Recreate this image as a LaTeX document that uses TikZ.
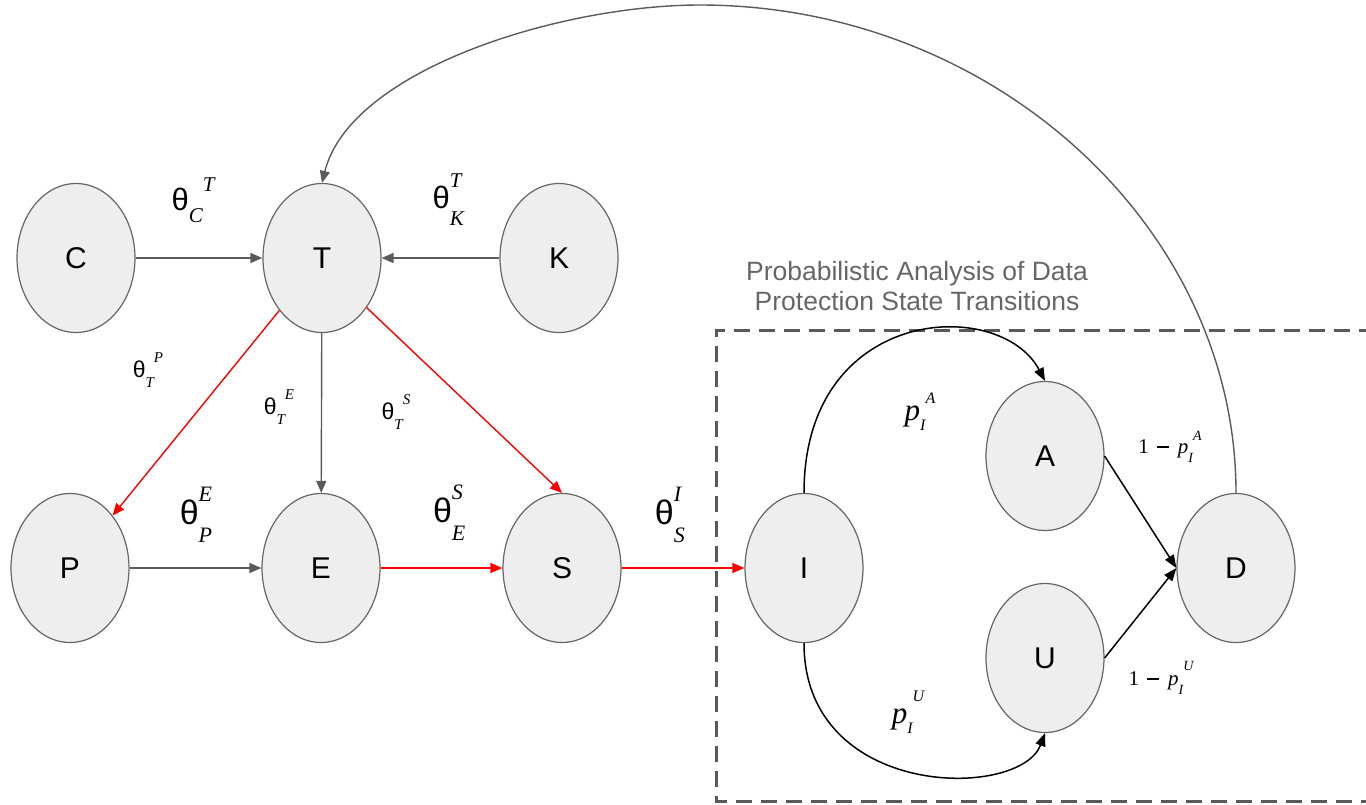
\documentclass[tikz,border=0pt]{standalone}
\usepackage{fontspec}
\setmainfont{Liberation Sans}
\newfontfamily\serf{Liberation Serif}
\usetikzlibrary{shapes.geometric,arrows.meta}
\definecolor{nodefill}{HTML}{EEEEEE}
\definecolor{nodeline}{HTML}{666666}
\definecolor{edgegray}{HTML}{5A5A5A}
\definecolor{titlegray}{HTML}{666666}
\definecolor{boxgray}{HTML}{595959}
\definecolor{redline}{HTML}{FF0000}
% stacked sub/superscript: base, base size, script size, sub, sup, lower, raise
\newcommand{\stk}[7]{{\fontsize{#2}{#2}\selectfont #1}{\fontsize{#3}{#3}\selectfont\serf\itshape\rlap{\raisebox{-#6}{#4}}\raisebox{#7}{#5}}}
% shifted: superscript after subscript
\newcommand{\shf}[7]{{\fontsize{#2}{#2}\selectfont #1}{\fontsize{#3}{#3}\selectfont\serf\itshape\raisebox{-#6}{#4}\raisebox{#7}{#5}}}
\newcommand{\minussign}{\hspace{8pt}\rule[6pt]{12pt}{1.3pt}\hspace{9pt}}
\begin{document}
\begin{tikzpicture}[x=1pt,y=-1pt,
  state/.style={ellipse, draw=nodeline, fill=nodefill, line width=1.2pt,
    minimum width=118pt, minimum height=149pt, inner sep=0pt,
    font=\fontsize{30}{30}\selectfont},
  grayedge/.style={draw=edgegray, line width=1.4pt, -{Triangle[length=12pt,width=10pt]}},
  rededge/.style={draw=redline, line width=1.4pt, -{Triangle[length=12pt,width=10pt]}},
  blackedge/.style={draw=black, line width=1.5pt, -{Triangle[length=13pt,width=10pt]}},
  lbl/.style={inner sep=0pt, text=black},
  titletext/.style={inner sep=0pt, text=titlegray, align=center,
    font=\fontsize{26.5}{30}\selectfont},
  group/.style={draw=boxgray, line width=3pt, dash pattern=on 16pt off 9pt}
]
\useasboundingbox (0,0) rectangle (1366,804);

% group box
\draw[group] (1400,330) -- (716,330) -- (716,801) -- (1400,801);
\node[titletext] (title) at (917,286) {Probabilistic Analysis of Data\\Protection State Transitions};

% nodes
\node[state] (C) at (76,258) {C};
\node[state] (T) at (322,258) {T};
\node[state] (K) at (559,258) {K};
\node[state] (P) at (70,568) {P};
\node[state] (E) at (321,568) {E};
\node[state] (S) at (562,568) {S};
\node[state] (I) at (804,568) {I};
\node[state] (A) at (1045,456) {A};
\node[state] (U) at (1045,658) {U};
\node[state] (D) at (1236,568) {D};

% edges
\draw[grayedge] (C) -- (T);
\draw[grayedge] (K) -- (T);
\draw[grayedge] (T) -- (E);
\draw[grayedge] (P) -- (E);
\draw[rededge] (T) -- (P);
\draw[rededge] (T.-48) -- (S.north);
\draw[rededge] (E) -- (S);
\draw[rededge] (S) -- (I);
\draw[blackedge] (I.north) .. controls (804,305) and (1000,296) .. (A.north);
\draw[blackedge] (I.south) .. controls (804,800) and (1020,800) .. (U.south);
\draw[blackedge] (A.east) -- (D.west);
\draw[blackedge] (U.east) -- (D.west);
\coordinate (top) at (700,5);
\draw[grayedge] (D.north) .. controls (1236,226) and (992,5) .. (top)
   .. controls (560,5) and (350,70) .. (T.north);

% labels
\node[lbl] (lCT) at (193,200) {\shf{θ}{31pt}{21pt}{C}{T}{12pt}{19pt}};
\node[lbl] (lKT) at (447,200) {\stk{θ}{31pt}{21pt}{K}{T}{17pt}{21pt}};
\node[lbl] (lTP) at (148,370) {\shf{θ}{23pt}{15pt}{T}{P}{10pt}{15pt}};
\node[lbl] (lTE) at (279,407) {\shf{θ}{23pt}{15pt}{T}{E}{10pt}{15pt}};
\node[lbl] (lTS) at (396,412) {\shf{θ}{23pt}{15pt}{T}{S}{10pt}{15pt}};
\node[lbl] (lPE) at (196,515) {\stk{θ}{34pt}{22pt}{P}{E}{18pt}{23pt}};
\node[lbl] (lES) at (448,513) {\stk{θ}{34pt}{22pt}{E}{S}{18pt}{23pt}};
\node[lbl] (lSI) at (668,515) {\stk{θ}{34pt}{22pt}{S}{I}{18pt}{23pt}};
\node[lbl] (lpA) at (920,412) {\shf{\serf\itshape p}{31pt}{16pt}{I}{A}{10pt}{17pt}};
\node[lbl] (lpU) at (908,712) {\shf{\serf\itshape p}{31pt}{16pt}{I}{U}{10pt}{22pt}};
\node[lbl] (lqA) at (1170,447) {\shf{\serf 1\minussign\itshape p}{21pt}{14pt}{I}{A}{9pt}{13pt}};
\node[lbl] (lqU) at (1161,678) {\shf{\serf 1\minussign\itshape p}{21pt}{14pt}{I}{U}{9pt}{15pt}};
\end{tikzpicture}
\end{document}
